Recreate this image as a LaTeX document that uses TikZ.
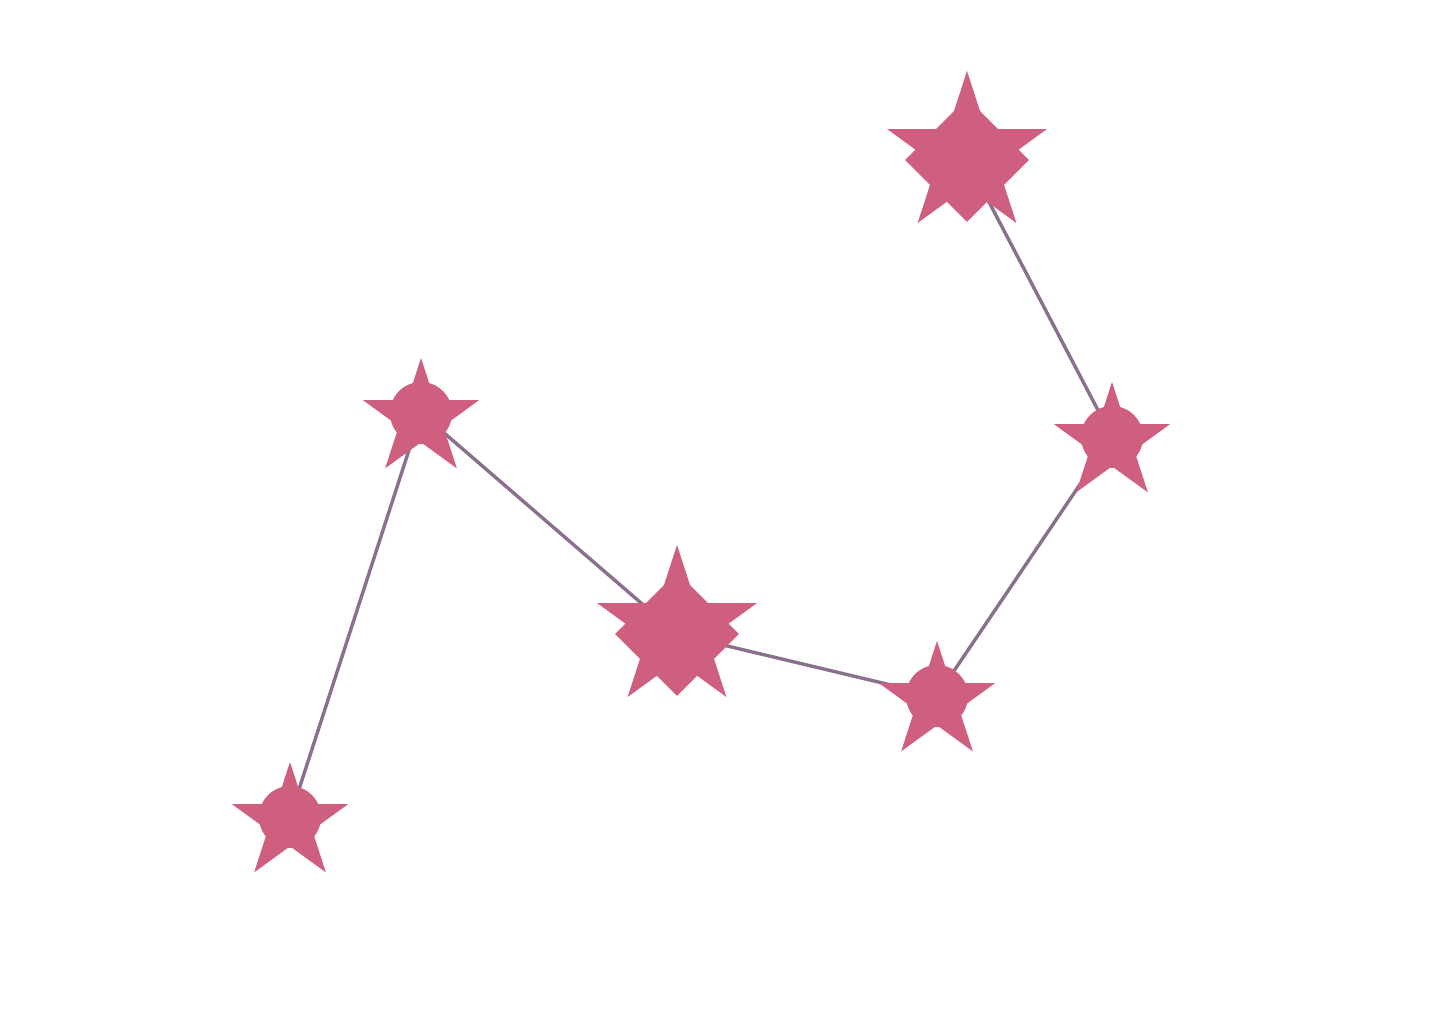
\documentclass[tikz,border=0pt]{standalone}
\usetikzlibrary{shapes.geometric,backgrounds}

\definecolor{starpink}{RGB}{206,95,126}
\definecolor{linkgray}{RGB}{137,112,140}

\begin{document}
\begin{tikzpicture}[x=0.5pt, y=-0.5pt,
    smallstar/.style={star, star points=5, star point ratio=2.618, fill=starpink,
        draw=none, inner sep=0pt, outer sep=0pt, minimum size=61pt},
    bigstar/.style={smallstar, minimum size=84pt},
    hub/.style={circle, fill=starpink, draw=none, inner sep=0pt, minimum size=31pt},
    bighub/.style={diamond, fill=starpink, draw=none, inner sep=0pt, minimum size=62pt},
    link/.style={draw=linkgray, line width=1.7pt}]
            % ==== FRAME ====
            \useasboundingbox (0,0) rectangle (1440,1024);
            % ==== STARS ====
            \node[smallstar] (a) at (290,823) {};
            \node[hub] (a-hub) at (290,817) {};
            \node[smallstar] (b) at (421,419) {};
            \node[hub] (b-hub) at (421,413) {};
            \node[bigstar] (c) at (677,629) {};
            \node[bighub] (c-hub) at (677,634) {};
            \node[smallstar] (d) at (937,702) {};
            \node[hub] (d-hub) at (937,696) {};
            \node[smallstar] (e) at (1112,443) {};
            \node[hub] (e-hub) at (1112,437) {};
            \node[bigstar] (f) at (967,155) {};
            \node[bighub] (f-hub) at (967,160) {};

            % ==== LINKS ====
            \begin{scope}[on background layer]
                \draw[link] (a-hub.center) -- (b-hub.center) -- (c-hub.center)
                    -- (d-hub.center) -- (e-hub.center) -- (f-hub.center);
            \end{scope}
         \end{tikzpicture}
\end{document}
